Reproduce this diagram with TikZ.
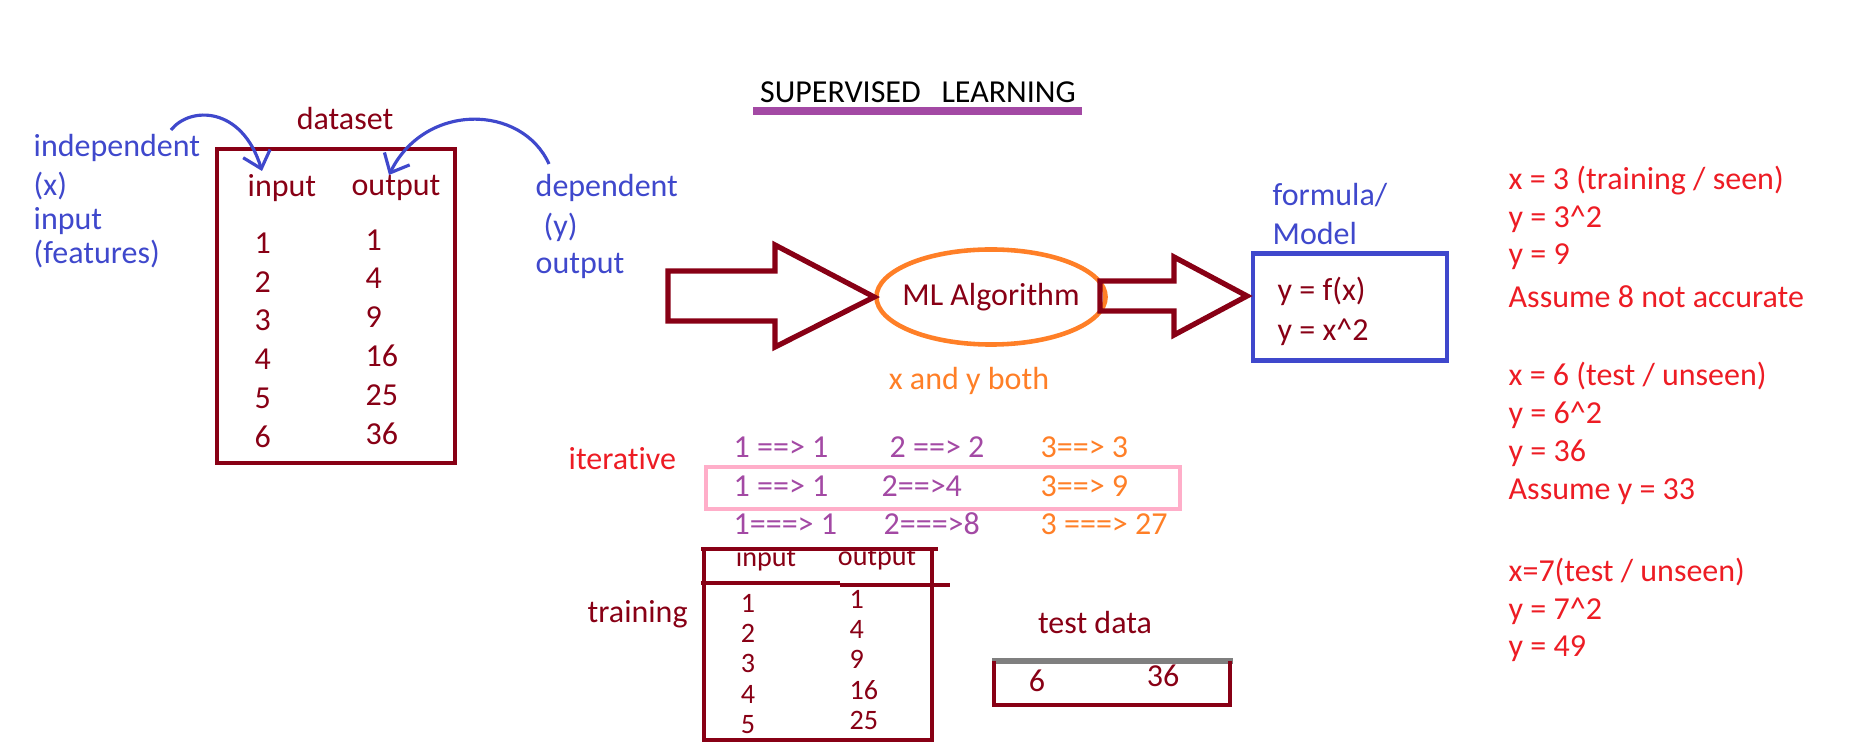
\documentclass[tikz,border=0pt]{standalone}
\usepackage{fontspec}
\setmainfont{Carlito}[Ligatures={NoCommon}]
\usetikzlibrary{arrows.meta, shapes.geometric, positioning}
\definecolor{pdred}{RGB}{136, 0, 21}
\definecolor{pblue}{RGB}{63, 72, 204}
\definecolor{porange}{RGB}{255, 127, 39}
\definecolor{pred}{RGB}{237, 28, 36}
\definecolor{ppurple}{RGB}{163, 73, 164}
\definecolor{ppink}{RGB}{255, 174, 201}
\definecolor{pgray}{RGB}{127, 127, 127}

\begin{document}
\begin{tikzpicture}[x=0.01cm, y=-0.01cm,
  txt/.style={inner sep=0pt, font=\fontsize{9.1}{11}\selectfont, text=#1},
  txt/.default=pdred,
  ltxt/.style={txt=#1, anchor=west},
  ltxt/.default=pdred,
  tbl/.style={inner sep=0pt, font=\fontsize{8}{9.6}\selectfont, text=pdred},
  frame/.style={draw=#1, line width=1.3pt},
  edge/.style={draw=pdred, line width=1.3pt},
  hollow/.style={draw=pdred, line width=1.5pt, line join=miter},
  hand/.style={pblue, line width=0.9pt, -{Straight Barb[length=4.5pt, width=8pt]}}
]
\useasboundingbox (0,0) rectangle (1850,743);

% title
\node[txt=black] (title) at (918,92) {SUPERVISED\hspace{0.65em}LEARNING};
\draw[ppurple, line width=2pt] (753,111) -- (1082,111);

% dataset table
\node[txt] (dslbl) at (345,119) {dataset};
\node[frame=pdred, minimum width=2.38cm, minimum height=3.14cm] (dsbox) at (336,306) {};
\node[txt] (dsin)  at (282,188) {input};
\node[txt] (dsout) at (396,188) {output};
\foreach \v [count=\i] in {1,...,6}
  \node[ltxt] (din\i) at (254,{243+38.8*(\i-1)}) {\v};
\foreach \v [count=\i] in {1,4,9,16,25,36}
  \node[ltxt] (dout\i) at (365,{240+38.7*(\i-1)}) {\v};

% x / y labels
\node[ltxt=pblue] (indep1) at (33,148) {independent};
\node[ltxt=pblue] (indep2) at (33,186) {(x)};
\node[ltxt=pblue] (indep3) at (33,221) {input};
\node[ltxt=pblue] (indep4) at (33,254) {(features)};
\node[ltxt=pblue] (dep1) at (535,188) {dependent};
\node[ltxt=pblue] (dep2) at (543,227) {(y)};
\node[ltxt=pblue] (dep3) at (535,266) {output};

\coordinate (h1s) at (171,130);
\coordinate (h1e) at (262,171);
\coordinate (h2s) at (549,164);
\coordinate (h2e) at (389,175);
\draw[hand] (h1s) .. controls (190,106) and (242,106) .. (h1e);
\draw[hand] (h2s) .. controls (522,104) and (425,102) .. (h2e);

% algorithm and model
\node[ellipse, draw=porange, line width=1.3pt, inner sep=0pt,
      minimum width=2.29cm, minimum height=0.95cm] (algo) at (991,297) {};
\node[txt] (algotxt) at (991,297) {ML Algorithm};
\node[txt=porange] (both) at (969,381) {x and y both};
\draw[hollow] (668,271) -- (775,271) -- (775,245) -- (algo.west)
  -- (775,347) -- (775,321) -- (668,321) -- cycle;

\node[frame=pblue, minimum width=1.94cm, minimum height=1.07cm] (model) at (1350,307) {};
\node[ltxt=pblue] (form1) at (1272,195) {formula/};
\node[ltxt=pblue] (form2) at (1272,234) {Model};
\node[ltxt] (fx)  at (1277,291) {y = f(x)};
\node[ltxt] (fx2) at (1277,332) {y = x\textasciicircum 2};
\draw[hollow] (1100,281) -- (1174,281) -- (1174,257) -- (1247,296)
  -- (1174,335) -- (1174,311) -- (1100,311) -- cycle;

% notes on the right
\node[ltxt=pred] (rx3)    at (1508,181) {x = 3 (training / seen)};
\node[ltxt=pred] (ry3sq)  at (1508,219) {y = 3\textasciicircum 2};
\node[ltxt=pred] (ry9)    at (1508,257) {y = 9};
\node[ltxt=pred] (rass8)  at (1508,297) {Assume 8 not accurate};
\node[ltxt=pred] (rx6)    at (1508,376) {x = 6 (test / unseen)};
\node[ltxt=pred] (ry6sq)  at (1508,415) {y = 6\textasciicircum 2};
\node[ltxt=pred] (ry36)   at (1508,453) {y = 36};
\node[ltxt=pred] (rass33) at (1508,492) {Assume y = 33};
\node[ltxt=pred] (rx7)    at (1508,572) {x=7(test / unseen)};
\node[ltxt=pred] (ry7sq)  at (1508,611) {y = 7\textasciicircum 2};
\node[ltxt=pred] (ry49)   at (1508,649) {y = 49};

% iterative
\node[ltxt=pred] (iter) at (568,459) {iterative};
\draw[ppink, line width=1.2pt] (706,467) rectangle (1180,509);
\node[ltxt=ppurple] (it11) at (733,447) {1 ==> 1};
\node[ltxt=ppurple] (it12) at (889,447) {2 ==> 2};
\node[ltxt=porange] (it13) at (1040,447) {3==> 3};
\node[ltxt=ppurple] (it21) at (733,486) {1 ==> 1};
\node[ltxt=ppurple] (it22) at (881,486) {2==>4};
\node[ltxt=porange] (it23) at (1040,486) {3==> 9};
\node[ltxt=ppurple] (it31) at (733,524) {1===> 1};
\node[ltxt=ppurple] (it32) at (883,524) {2===>8};
\node[ltxt=porange] (it33) at (1040,524) {3 ===> 27};

% training table
\node[ltxt] (train) at (587,614) {training};
\node[tbl] (trin)  at (766,559) {input};
\node[tbl] (trout) at (877,559) {output};
\fill[white] (700,540) rectangle (945,549);
\draw[edge] (701,549) -- (938,549);
\draw[edge] (704,549) -- (704,740) -- (932,740) -- (932,549);
\draw[edge] (701,583) -- (840,583);
\draw[edge] (840,585) -- (950,585);
\foreach \v [count=\i] in {1,...,5}
  \node[tbl] (trx\i) at (748,{603+30.4*(\i-1)}) {\v};
\foreach \v [count=\i] in {1,4,9,16,25}
  \node[tbl, anchor=west] (try\i) at (849,{599+30.4*(\i-1)}) {\v};

% test data
\node[txt] (test) at (1095,623) {test data};
\draw[pgray, line width=1.5pt] (992,661) -- (1233,661);
\draw[edge] (994,661) -- (994,705) -- (1230,705) -- (1230,661);
\node[txt] (t6)  at (1037,681) {6};
\node[txt] (t36) at (1163,676) {36};
\end{tikzpicture}
\end{document}
